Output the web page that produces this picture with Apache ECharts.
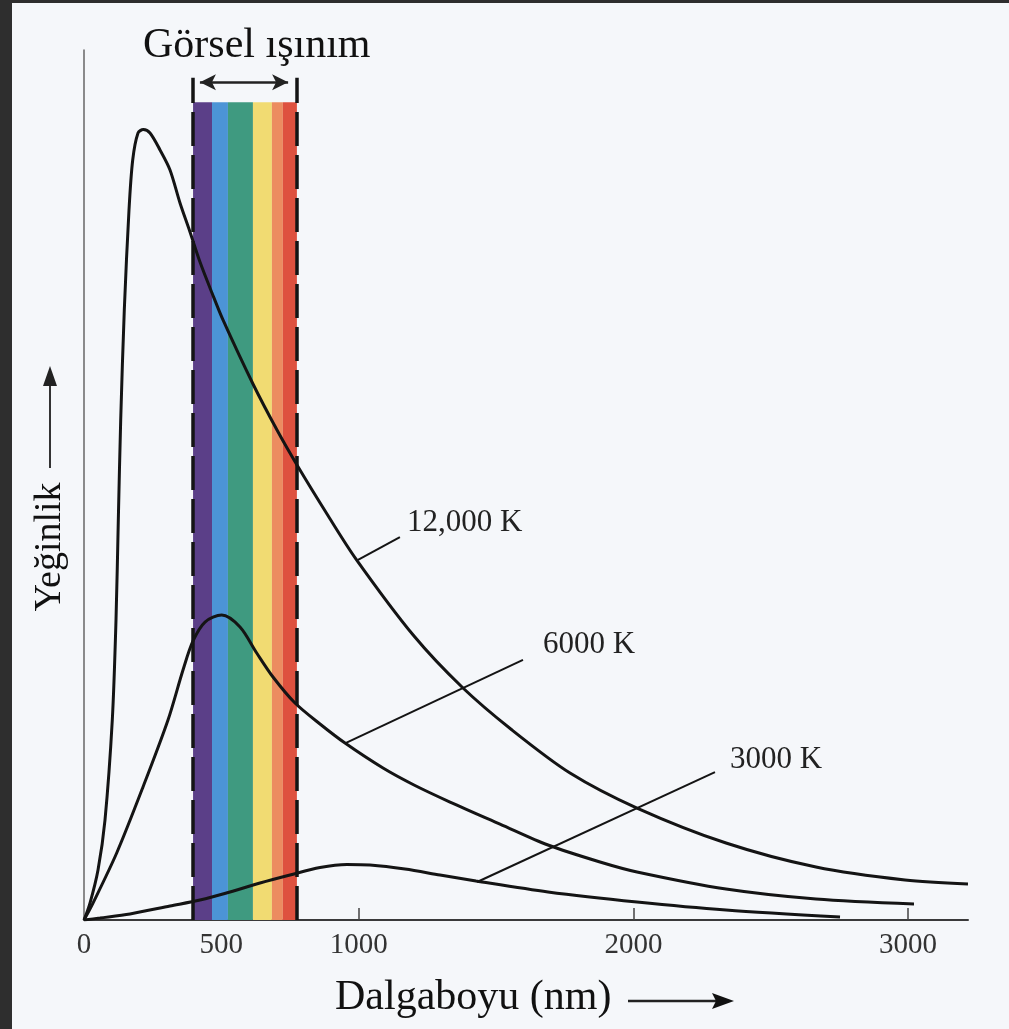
<!DOCTYPE html>
<html>
<head>
<meta charset="utf-8">
<script src="https://cdn.jsdelivr.net/npm/echarts@6/dist/echarts.min.js"></script>
<style>html,body{margin:0;padding:0;background:#f5f7fa;}#chart{width:1009px;height:1029px;}</style>
</head>
<body>
<div id="chart"></div>
<script>
// ---- data (wavelength in nm, intensity in arbitrary units 0..100) ----
const tickLabelValues = [0, 500, 1000, 2000, 3000];
const tickMarkValues = [500, 1000, 2000, 3000];
const curveNames = ['12,000 K', '6000 K', '3000 K'];

const curve12000 = [[0,0],[21.8,1.95],[51,5.75],[76.4,11.49],[103,22.99],[116.5,34.48],[124.9,45.98],[133.6,57.47],[146.7,70.11],[163.8,81.61],[177.3,87.36],[196.6,90.46],[215.9,90.86],[240.3,90.46],[276.7,88.51],[313.1,86.21],[349.5,82.41],[385.9,79.08],[422.3,75.63],[466,72.07],[506,68.97],[615.2,61.61],[702.6,56.32],[775.4,52.3],[884.6,46.67],[990.2,41.49],[1201.3,32.64],[1379.7,26.67],[1558.1,21.84],[1769.2,16.9],[2013.1,12.87],[2337.1,8.85],[2664.7,6.09],[2988.7,4.6],[3218,4.14]];
const curve6000 = [[0,0],[32.8,1.95],[119,7.7],[214.8,15.29],[305.8,22.99],[360.4,28.74],[396.8,32.07],[440.5,34.25],[501.3,35.06],[567.9,33.68],[628.7,30.69],[688,27.93],[768.1,24.94],[859.1,22.53],[950.1,20.34],[1088.5,17.47],[1201.3,15.52],[1332.4,13.56],[1514.4,11.03],[1689.1,8.62],[1878.4,6.67],[2013.1,5.52],[2337.1,3.56],[2664.7,2.41],[3021.5,1.84]];
const curve3000 = [[0,0],[58.2,0.23],[167.5,0.69],[313.1,1.61],[422.3,2.3],[531.5,3.22],[640.7,4.25],[749.9,5.17],[859.1,6.03],[957.4,6.38],[1041.1,6.32],[1168.5,5.86],[1296,5.17],[1427,4.48],[1689.1,3.22],[2013.1,2.07],[2337.1,1.15],[2752.1,0.34]];

// visible spectrum stripes [from, to] in nm
const visibleStripes = [[397,466],[466,524],[524,615],[615,684],[684,724],[724,775]];
const visibleEdges = [397, 775];
const visibleArrow = [422, 743];
const bandTop = 94.0, edgeTop = 96.8, arrowLevel = 96.3;

// callout leaders: [curveX, curveY, endX, endY] and label anchor [x, y]
const leaderLines = [[997.5,41.4,1150,44.0],[950,20.3,1598,29.9],[1431,4.37,2297,17.0]];
const labelAnchors = [[1176,45.6],[1671,31.6],[2352,18.4]];

// ---- styles ----
const stripeColors = ['#5b3f88','#4c94d6','#3f9a80','#f1db72','#ec8c60','#de513f'];
const serif = 'Liberation Serif';
const ink = '#141414';

const chart = echarts.init(document.getElementById('chart'), null, {renderer:'canvas'});

const curves = [curve12000, curve6000, curve3000];
const curveSeries = curves.map((d, i) => ({
  name: curveNames[i],
  type: 'line',
  data: d,
  smooth: 0.3,
  showSymbol: false,
  symbol: 'none',
  z: 5,
  lineStyle: {color: ink, width: 3},
  markLine: {
    silent: true, symbol: 'none', animation: false,
    label: {show: false},
    lineStyle: {color: ink, width: 2, type: 'solid'},
    data: [[{coord: [leaderLines[i][0], leaderLines[i][1]]}, {coord: [leaderLines[i][2], leaderLines[i][3]]}]]
  },
  markPoint: {
    silent: true, symbol: 'circle', symbolSize: 0, animation: false,
    label: {show: true, position: 'right', distance: 0, formatter: curveNames[i],
            fontFamily: serif, fontSize: 31, color: '#222'},
    data: [{coord: labelAnchors[i]}]
  }
}));

const bandSeries = {
  name: 'visible',
  type: 'line',
  data: [[0,0]],
  symbol: 'none',
  lineStyle: {opacity: 0},
  z: 1,
  markArea: {
    silent: true, animation: false,
    data: visibleStripes.map((s, i) => [
      {coord: [s[0], 0], itemStyle: {color: stripeColors[i]}},
      {coord: [s[1], bandTop]}
    ])
  },
  markLine: {
    silent: true, animation: false,
    label: {show: false},
    data: [
      [{coord: [visibleEdges[0], 0], symbol: 'none', lineStyle: {color: ink, width: 3.5, type: [34, 9]}},
       {coord: [visibleEdges[0], edgeTop], symbol: 'none'}],
      [{coord: [visibleEdges[1], 0], symbol: 'none', lineStyle: {color: ink, width: 3.5, type: [34, 9]}},
       {coord: [visibleEdges[1], edgeTop], symbol: 'none'}],
      [{coord: [visibleArrow[0], arrowLevel], symbol: 'arrow', symbolSize: [12, 16], lineStyle: {color: '#222', width: 2.5, type: 'solid'}},
       {coord: [visibleArrow[1], arrowLevel], symbol: 'arrow', symbolSize: [12, 16]}]
    ]
  }
};

const option = {
  backgroundColor: '#f5f7fa',
  animation: false,
  grid: {left: 84, right: 41, top: 50, bottom: 109, containLabel: false, outerBoundsMode: 'none'},
  xAxis: {
    type: 'value', min: 0, max: 3218,
    axisLine: {show: true, lineStyle: {color: '#3a3a3a', width: 2}},
    axisTick: {show: true, inside: true, length: 12, customValues: tickMarkValues, lineStyle: {color: '#444', width: 1.5}},
    axisLabel: {show: true, customValues: tickLabelValues, formatter: v => String(v),
                fontFamily: serif, fontSize: 29, color: '#333', margin: 11},
    splitLine: {show: false}
  },
  yAxis: {
    type: 'value', min: 0, max: 100,
    axisLine: {show: true, lineStyle: {color: '#666', width: 1.5}},
    axisTick: {show: false}, axisLabel: {show: false}, splitLine: {show: false}
  },
  graphic: [
    {type: 'rect', left: 0, top: 0, shape: {width: 12, height: 1029}, style: {fill: '#2e2e2e'}, z: 100},
    {type: 'rect', left: 0, top: 0, shape: {width: 1009, height: 3}, style: {fill: '#2e2e2e'}, z: 100},
    {type: 'text', x: 143, y: 46, style: {text: 'Görsel ışınım', font: '42px "Liberation Serif"', fill: '#111', textVerticalAlign: 'middle'}},
    {type: 'text', x: 50, y: 547, rotation: Math.PI / 2, style: {text: 'Yeğinlik', font: '38px "Liberation Serif"', fill: '#111', textAlign: 'center', textVerticalAlign: 'middle'}},
    {type: 'line', shape: {x1: 50, y1: 468, x2: 50, y2: 380}, style: {stroke: '#333', lineWidth: 2}},
    {type: 'polygon', shape: {points: [[50, 366], [43, 386], [57, 386]]}, style: {fill: '#222'}},
    {type: 'text', x: 335, y: 998, style: {text: 'Dalgaboyu (nm)', font: '42px "Liberation Serif"', fill: '#111', textVerticalAlign: 'middle'}},
    {type: 'line', shape: {x1: 628, y1: 1001, x2: 716, y2: 1001}, style: {stroke: '#222', lineWidth: 2.5}},
    {type: 'polygon', shape: {points: [[734, 1001], [712, 993], [716, 1001], [712, 1009]]}, style: {fill: '#111'}}
  ],
  series: [bandSeries].concat(curveSeries)
};
chart.setOption(option);
</script>
</body>
</html>
